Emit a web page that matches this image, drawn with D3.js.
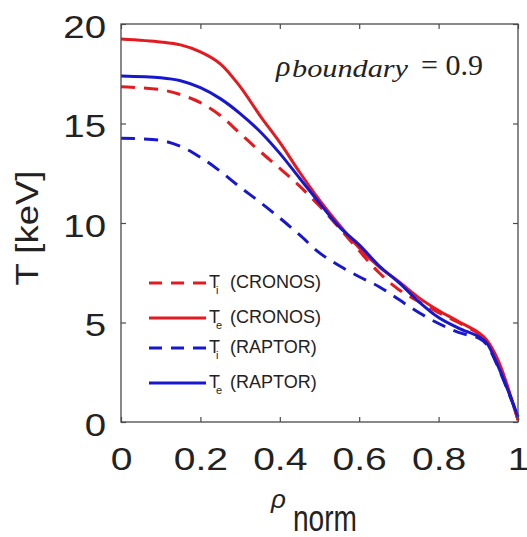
<!DOCTYPE html>
<html>
<head>
<meta charset="utf-8">
<script src="https://cdn.jsdelivr.net/npm/d3@7"></script>
<style>
body { margin: 0; background: #fff; }
text { font-family: "Liberation Sans", Arial, sans-serif; fill: #222; }
</style>
</head>
<body>
<script>
// profiles
const rhoGrid = [0, 0.1, 0.15, 0.2, 0.25, 0.3, 0.35, 0.4, 0.45, 0.5, 0.55, 0.6, 0.65, 0.7, 0.75, 0.8, 0.85, 0.9, 0.92, 0.95, 1.0];
const tiCronos = [16.85, 16.7, 16.45, 16.05, 15.4, 14.5, 13.6, 12.75, 11.85, 10.85, 9.75, 8.6, 7.5, 6.65, 6.05, 5.5, 5.0, 4.45, 4.1, 3.0, 0.1];
const teCronos = [19.25, 19.1, 18.95, 18.6, 18.0, 16.85, 15.4, 14.05, 12.55, 11.15, 9.9, 8.75, 7.8, 7.05, 6.25, 5.6, 5.05, 4.5, 4.15, 3.1, 0.1];
const tiRaptor = [14.26, 14.15, 13.85, 13.3, 12.6, 11.8, 11.05, 10.25, 9.4, 8.5, 7.85, 7.3, 6.8, 6.15, 5.5, 4.95, 4.5, 4.22, 3.92, 2.75, 0.25];
const teRaptor = [17.39, 17.3, 17.15, 16.8, 16.25, 15.5, 14.6, 13.5, 12.25, 11.0, 9.8, 8.9, 7.85, 7.0, 6.05, 5.25, 4.72, 4.3, 4.0, 2.8, 0.27];

const xTicks = [0, 0.2, 0.4, 0.6, 0.8, 1];
const yTicks = [0, 5, 10, 15, 20];
const legendSubs = ['i', 'e', 'i', 'e'];
const legendNames = ['(CRONOS)', '(CRONOS)', '(RAPTOR)', '(RAPTOR)'];

const width = 527;
const height = 537;
const plot = { left: 121, right: 518, top: 24, bottom: 422 };
const red = '#e31b20';
const blue = '#1717cf';
const dash = '14,9';

const series = [
  { values: tiCronos, color: red, dashed: true },
  { values: teCronos, color: red, dashed: false },
  { values: tiRaptor, color: blue, dashed: true },
  { values: teRaptor, color: blue, dashed: false },
];

const svg = d3.select('body').append('svg')
  .attr('width', width)
  .attr('height', height);

svg.append('rect')
  .attr('width', width)
  .attr('height', height)
  .attr('fill', '#fff');

const x = d3.scaleLinear().domain([0, 1]).range([plot.left, plot.right]);
const y = d3.scaleLinear().domain([0, 20]).range([plot.bottom, plot.top]);

const line = d3.line()
  .x((d, i) => x(rhoGrid[i]))
  .y(d => y(d))
  .curve(d3.curveCatmullRom.alpha(0.5));

// curves first, box on top
svg.append('g').selectAll('path')
  .data(series)
  .join('path')
  .attr('d', d => line(d.values))
  .attr('fill', 'none')
  .attr('stroke', d => d.color)
  .attr('stroke-width', 3)
  .attr('stroke-dasharray', d => (d.dashed ? dash : null));

const axisColor = '#4a4a4a';

const bottomAxis = svg.append('g')
  .attr('transform', `translate(0,${plot.bottom})`)
  .call(d3.axisBottom(x).tickValues(xTicks).tickSizeInner(-5).tickSizeOuter(0)
    .tickFormat(d3.format('')));
bottomAxis.selectAll('text')
  .attr('y', 48)
  .attr('dy', 0)
  .attr('transform', 'scale(1.22,1)')
  .style('font-size', '32px');

const leftAxis = svg.append('g')
  .attr('transform', `translate(${plot.left},0)`)
  .call(d3.axisLeft(y).tickValues(yTicks).tickSizeInner(-5).tickSizeOuter(0));
leftAxis.selectAll('text')
  .attr('x', -15 / 1.2)
  .attr('dy', 13)
  .attr('transform', 'scale(1.2,1)')
  .style('font-size', '32px');

svg.append('g')
  .attr('transform', `translate(0,${plot.top})`)
  .call(d3.axisTop(x).tickValues(xTicks).tickSizeInner(-5).tickSizeOuter(0).tickFormat(''));
svg.append('g')
  .attr('transform', `translate(${plot.right},0)`)
  .call(d3.axisRight(y).tickValues(yTicks).tickSizeInner(-5).tickSizeOuter(0).tickFormat(''));

svg.selectAll('.domain').remove();
svg.selectAll('.tick line').attr('stroke', axisColor).attr('stroke-width', 1.2);
svg.selectAll('.tick text').attr('fill', '#222').style('font-family', '"Liberation Sans", Arial, sans-serif');

svg.append('rect')
  .attr('x', plot.left)
  .attr('y', plot.top)
  .attr('width', plot.right - plot.left)
  .attr('height', plot.bottom - plot.top)
  .attr('fill', 'none')
  .attr('stroke', axisColor)
  .attr('stroke-width', 1.3);

// axis titles
svg.append('text')
  .attr('transform', 'translate(38,228) rotate(-90)')
  .attr('text-anchor', 'middle')
  .attr('textLength', 115)
  .attr('lengthAdjust', 'spacingAndGlyphs')
  .style('font-size', '32px')
  .text('T [keV]');

svg.append('text')
  .attr('x', 271)
  .attr('y', 508)
  .style('font-size', '26px')
  .style('font-style', 'italic')
  .text('ρ');
svg.append('text')
  .attr('x', 293)
  .attr('y', 531)
  .attr('textLength', 64)
  .attr('lengthAdjust', 'spacingAndGlyphs')
  .style('font-size', '37px')
  .text('norm');

// annotation
const serif = '"Liberation Serif", "DejaVu Serif", serif';
svg.append('text')
  .attr('x', 276)
  .attr('y', 76)
  .style('font-family', serif)
  .style('font-style', 'italic')
  .style('font-size', '30px')
  .attr('fill', '#111')
  .text('ρ');
svg.append('text')
  .attr('x', 292)
  .attr('y', 77)
  .attr('textLength', 116)
  .attr('lengthAdjust', 'spacingAndGlyphs')
  .style('font-family', serif)
  .style('font-style', 'italic')
  .style('font-size', '25px')
  .attr('fill', '#111')
  .text('boundary');
svg.append('text')
  .attr('x', 421)
  .attr('y', 75)
  .style('font-family', serif)
  .style('font-size', '30px')
  .attr('fill', '#111')
  .text('= 0.9');

// legend
const legendY = [283, 318, 348, 383];
const legend = svg.append('g').selectAll('g')
  .data(series)
  .join('g')
  .attr('transform', (d, i) => `translate(0,${legendY[i]})`);

legend.append('line')
  .attr('x1', 149)
  .attr('x2', 206)
  .attr('stroke', d => d.color)
  .attr('stroke-width', 3)
  .attr('stroke-dasharray', d => (d.dashed ? '13,9' : null));

legend.append('text')
  .attr('x', 209)
  .attr('y', 5)
  .style('font-size', '18px')
  .text('T');
legend.append('text')
  .attr('x', 216)
  .attr('y', 11)
  .style('font-size', '11px')
  .text((d, i) => legendSubs[i]);
legend.append('text')
  .attr('x', 230)
  .attr('y', 5)
  .style('font-size', '18px')
  .text((d, i) => legendNames[i]);
</script>
</body>
</html>
